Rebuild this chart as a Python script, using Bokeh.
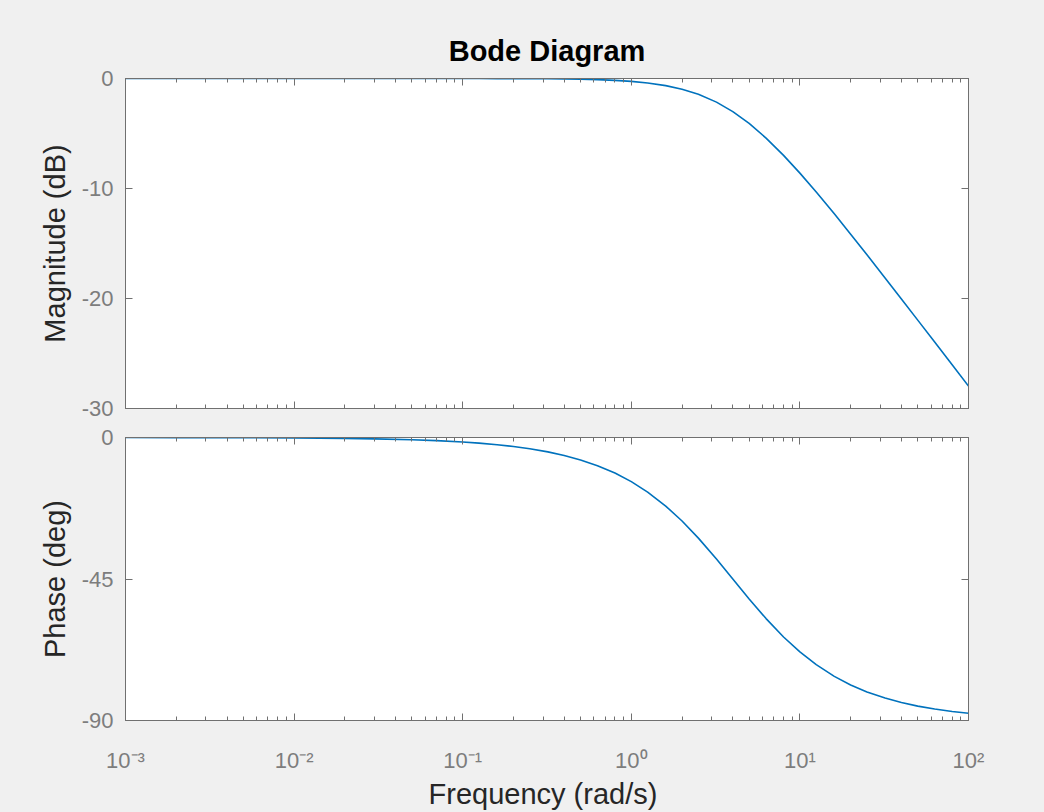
from bokeh.plotting import figure
from bokeh.models import Range1d, FixedTicker, LogAxis, LinearAxis, ColumnDataSource, CustomJSTickFormatter
from bokeh.layouts import column
from bokeh.embed import file_html
from bokeh.resources import INLINE

# ---- data ----
freq = [0.001, 0.002, 0.005, 0.01, 0.02, 0.03, 0.05, 0.07, 0.1, 0.125, 0.16, 0.2, 0.25,
        0.32, 0.4, 0.5, 0.63, 0.8, 1.0, 1.25, 1.6, 2.0, 2.5, 3.2, 4.0, 5.0, 6.3, 8.0,
        10.0, 12.5, 16.0, 20.0, 25.0, 32.0, 40.0, 50.0, 63.0, 80.0, 100.0]
mag_db = [0.0, 0.0, 0.0, 0.0, 0.0, 0.0, -0.001, -0.001, -0.003, -0.004, -0.007, -0.011,
          -0.017, -0.028, -0.043, -0.067, -0.106, -0.170, -0.263, -0.405, -0.645, -0.969,
          -1.432, -2.148, -3.010, -4.087, -5.417, -6.990, -8.603, -10.320, -12.304,
          -14.150, -16.028, -18.129, -20.043, -21.966, -23.963, -26.031, -27.966]
phase_deg = [-0.014, -0.029, -0.072, -0.143, -0.286, -0.430, -0.716, -1.003, -1.432,
             -1.790, -2.291, -2.862, -3.576, -4.574, -5.711, -7.125, -8.951, -11.310,
             -14.036, -17.354, -21.801, -26.565, -32.005, -38.660, -45.0, -51.340,
             -57.586, -63.435, -68.199, -72.255, -75.964, -78.690, -80.910, -82.875,
             -84.289, -85.426, -86.367, -87.138, -87.709]

x_major = [0.001, 0.01, 0.1, 1, 10, 100]
x_labels = ["10\u207b\u00b3", "10\u207b\u00b2", "10\u207b\u00b9", "10\u2070", "10\u00b9", "10\u00b2"]
mag_ticks = [-30, -20, -10, 0]
mag_tick_labels = ["-30", "-20", "-10", "0"]
phase_ticks = [-90, -45, 0]
phase_tick_labels = ["-90", "-45", "0"]

title_text = "Bode Diagram"
mag_label = "Magnitude (dB)"
phase_label = "Phase (deg)"
x_label = "Frequency  (rad/s)"

# ---- styling ----
FONT = "Liberation Sans"
BG = "#f0f0f0"
AXC = "#707070"
TICKC = "#7d7d7d"
LABC = "#262626"
LINEC = "#0072BD"

minor = [m * d for d in x_major[:-1] for m in range(2, 10)]
src = ColumnDataSource(dict(f=freq, m=mag_db, ph=phase_deg))
xr = Range1d(1e-3, 1e2)


def style_axis(ax, labels=True):
    ax.axis_line_color = AXC
    ax.major_tick_line_color = AXC
    ax.minor_tick_line_color = AXC
    ax.major_tick_in = 7
    ax.major_tick_out = 0
    ax.minor_tick_in = 4
    ax.minor_tick_out = 0
    ax.major_label_text_font = FONT
    ax.major_label_text_color = TICKC
    ax.axis_label_text_font = FONT
    ax.axis_label_text_color = LABC
    ax.axis_label_text_font_style = "normal"
    if not labels:
        ax.major_label_text_font_size = "0px"
        ax.major_label_standoff = 0
        ax.formatter = CustomJSTickFormatter(code="return ''")


def make(height, top, bottom, yr, yticks, ylabels, ylabel, ycol, show_x, title=None):
    kw = dict(title=title) if title else {}
    p = figure(width=1044, height=height, x_axis_type="log", x_range=xr, y_range=yr,
               output_backend="svg", toolbar_location=None,
               min_border_left=125, min_border_right=76,
               min_border_top=top, min_border_bottom=bottom,
               background_fill_color="white", border_fill_color=BG,
               outline_line_color=AXC, **kw)
    p.grid.visible = False
    xt = FixedTicker(ticks=x_major, minor_ticks=minor)
    yt = FixedTicker(ticks=yticks, minor_ticks=[])

    xa = p.xaxis[0]
    xa.ticker = xt
    style_axis(xa, labels=show_x)
    if show_x:
        xa.major_label_overrides = {v: s for v, s in zip(x_major, x_labels)}
        xa.major_label_text_font_size = "22px"
        xa.major_label_standoff = 27
        xa.axis_label = x_label
        xa.axis_label_text_font_size = "29px"
        xa.axis_label_standoff = 2

    ya = p.yaxis[0]
    ya.ticker = yt
    style_axis(ya)
    ya.major_label_overrides = {v: s for v, s in zip(yticks, ylabels)}
    ya.major_label_text_font_size = "22px"
    ya.major_label_standoff = 12
    ya.axis_label = ylabel
    ya.axis_label_text_font_size = "29px"
    ya.axis_label_standoff = 8

    top_ax = LogAxis(ticker=xt)
    style_axis(top_ax, labels=False)
    p.add_layout(top_ax, "above")
    right_ax = LinearAxis(ticker=yt)
    style_axis(right_ax, labels=False)
    p.add_layout(right_ax, "right")

    p.line("f", ycol, source=src, line_color=LINEC, line_width=1.6)
    if title:
        p.title.align = "center"
        p.title.text_font = FONT
        p.title.text_font_size = "29px"
        p.title.text_font_style = "bold"
        p.title.text_color = "#000000"
        p.title.standoff = 23
    return p


p1 = make(422, 78, 14, Range1d(-30, 0), mag_ticks, mag_tick_labels, mag_label, "m", False,
          title=title_text)
p2 = make(390, 15, 92, Range1d(-90, 0), phase_ticks, phase_tick_labels, phase_label, "ph", True)

layout = column(p1, p2, spacing=0)
layout.styles = {"background-color": BG}

html = file_html(layout, INLINE, title="Bode Diagram")
html = html.replace("</head>", "<style>html,body{background:#f0f0f0;}</style></head>", 1)
open("out.html", "w").write(html)
